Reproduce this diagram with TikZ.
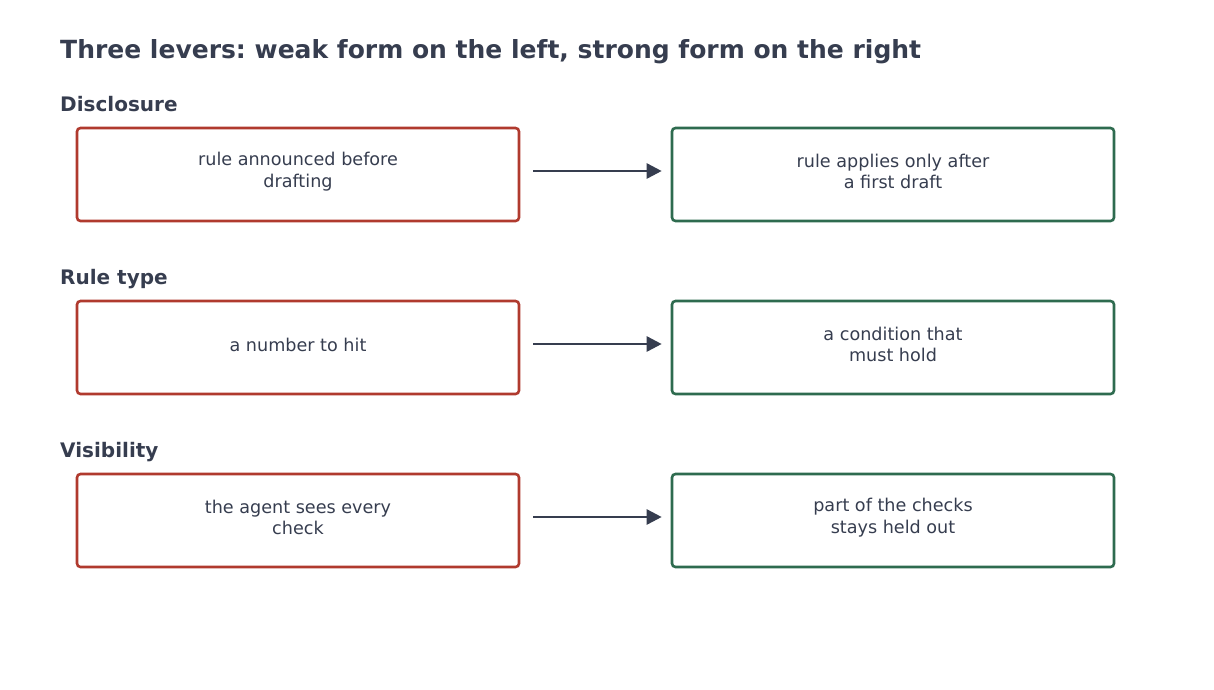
\documentclass[tikz,border=0pt]{standalone}
\usepackage{fontspec}
\setmainfont{DejaVu Sans}
\usetikzlibrary{arrows.meta}
\definecolor{ink}{HTML}{363D4F}
\definecolor{weak}{HTML}{B03A2E}
\definecolor{strong}{HTML}{2E6B4F}
\frenchspacing
\begin{document}
\begin{tikzpicture}[x=1pt,y=-1pt,
  box/.style={draw,line width=2.6pt,rounded corners=3.5pt,minimum width=442pt,minimum height=93pt,inner sep=0pt},
  weakbox/.style={box,draw=weak},
  strongbox/.style={box,draw=strong},
  boxtext/.style={text=ink,font=\fontsize{17.6}{21.5}\selectfont,align=center},
  heading/.style={text=ink,font=\fontsize{20}{24}\selectfont\bfseries,anchor=base west,inner sep=0pt},
  conn/.style={draw=ink,line width=2.6pt,-{Triangle[length=15pt,width=15pt]}}]
\useasboundingbox (0,0) rectangle (1214,689);
\node[text=ink,font=\fontsize{25}{30}\selectfont\bfseries,anchor=base west,inner sep=0pt] (title) at (60,58) {Three levers: weak form on the left, strong form on the right};
\foreach \i/\y/\lab/\lt/\rt in {1/128/Disclosure/{rule announced before\\drafting}/{rule applies only after\\a first draft},
  2/301/Rule type/{a number to hit}/{a condition that\\must hold},
  3/474/Visibility/{the agent sees every\\check}/{part of the checks\\stays held out}} {
  \node[heading] (h\i) at (60,\y-17) {\lab};
  \node[weakbox] (l\i) at (298,\y+46.5) {};
  \node[strongbox] (r\i) at (893,\y+46.5) {};
  \node[boxtext] (lt\i) at (298,\y+43.5) {\lt};
  \node[boxtext] (rt\i) at (893,\y+43.5) {\rt};
  \coordinate (a\i) at ([yshift=3.5pt]l\i.east);
  \coordinate (b\i) at ([yshift=3.5pt]r\i.west);
  \draw[conn] ([xshift=13pt]a\i) -- ([xshift=-9pt]b\i);
}
\end{tikzpicture}
\end{document}
